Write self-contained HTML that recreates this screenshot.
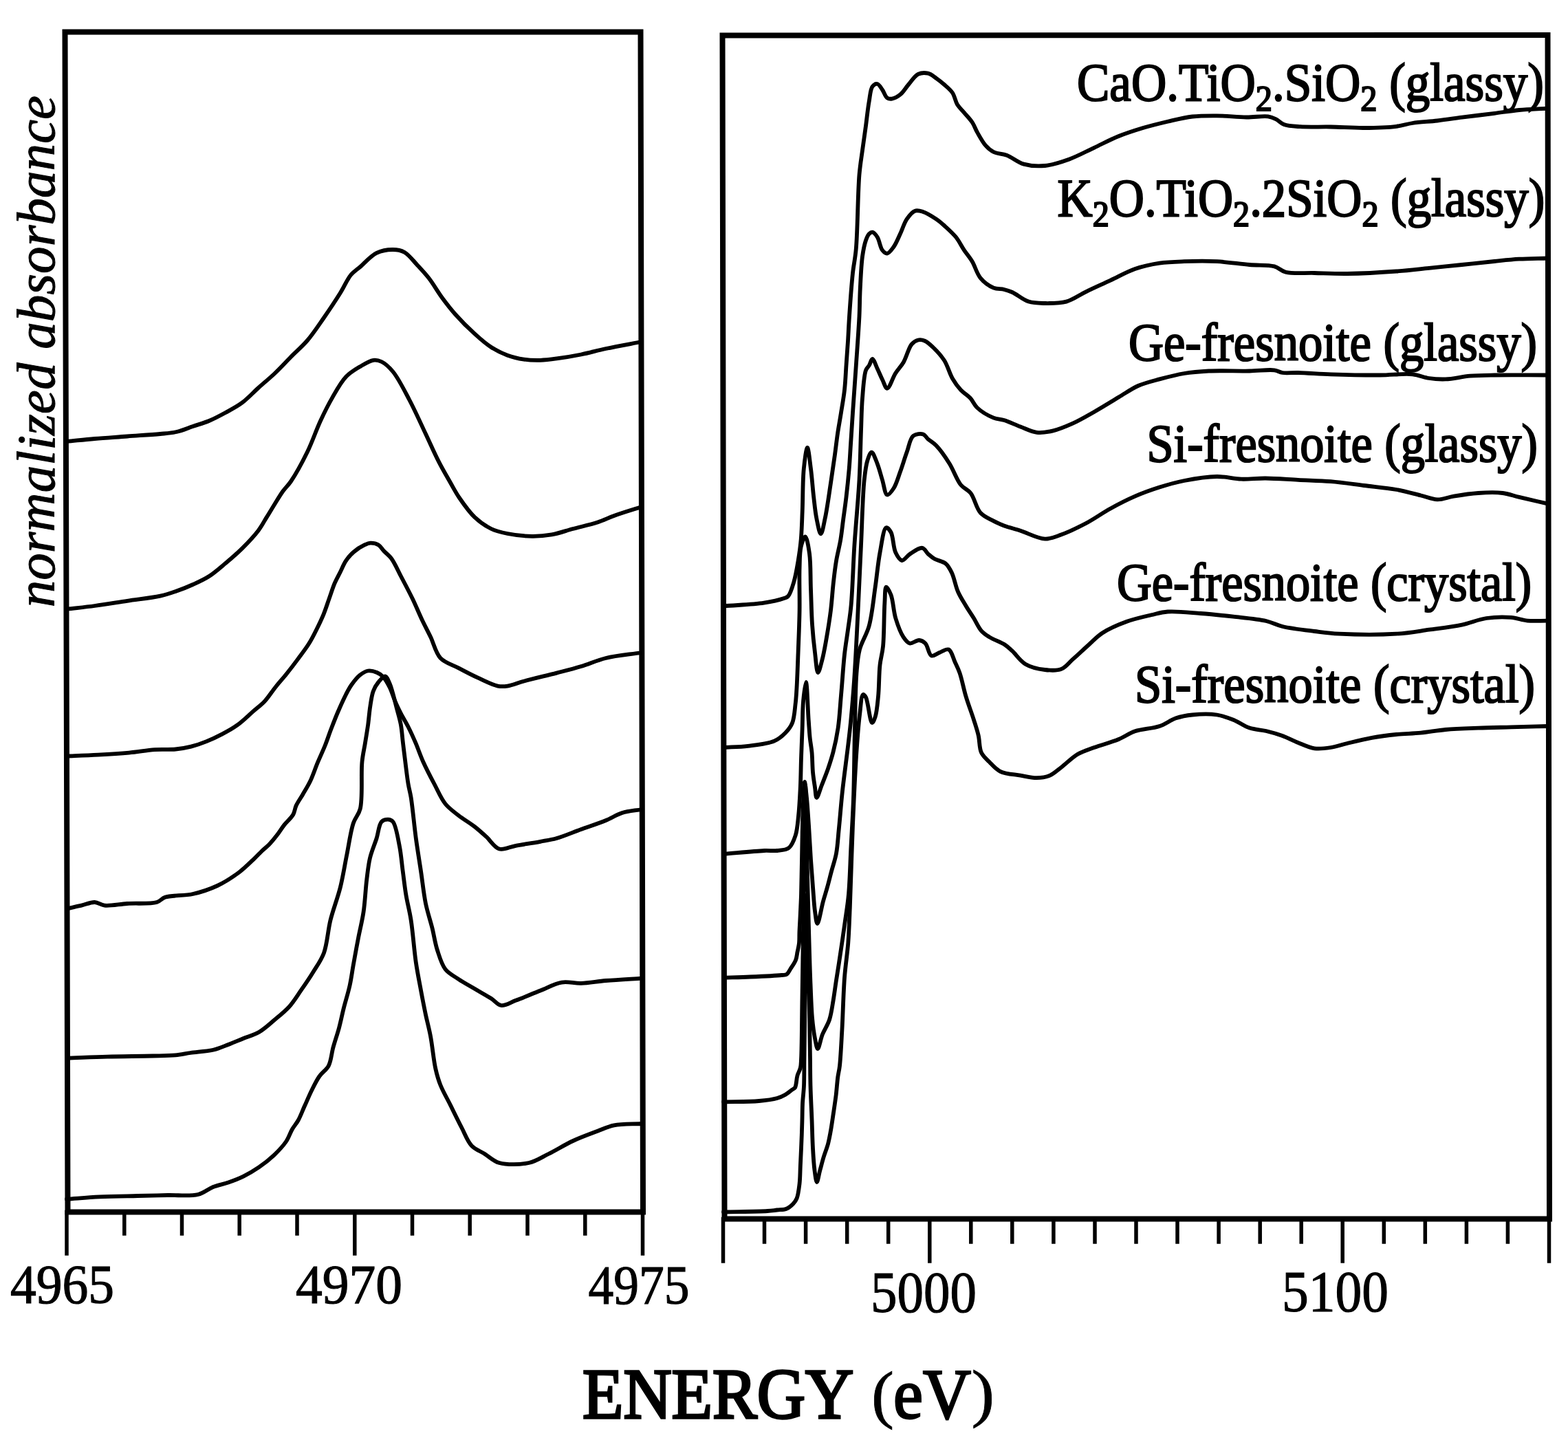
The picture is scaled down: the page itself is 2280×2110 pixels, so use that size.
<!DOCTYPE html>
<html><head><meta charset="utf-8"><title>XANES spectra</title>
<style>
html,body{margin:0;padding:0;background:#fff;}
svg{display:block;}
text{font-family:"Liberation Serif","Times New Roman",serif;fill:#000;}
</style></head><body>
<svg width="2280" height="2110" viewBox="0 0 2280 2110">
<rect x="0" y="0" width="2280" height="2110" fill="#fff"/>

<path d="M94.5,46.5 L931.5,46.5 L935,1762.5 L98.5,1762.5 Z" fill="none" stroke="#000" stroke-width="8" stroke-linejoin="miter"/>
<path d="M1050.5,51.5 L2250.5,51 L2253,1772.5 L1053.5,1772.5 Z" fill="none" stroke="#000" stroke-width="8" stroke-linejoin="miter"/>
<line x1="97.0" y1="1762.5" x2="97.0" y2="1823" stroke="#000" stroke-width="5.5" stroke-linecap="square"/>
<line x1="180.8" y1="1762.5" x2="180.8" y2="1794" stroke="#000" stroke-width="5.5" stroke-linecap="square"/>
<line x1="264.5" y1="1762.5" x2="264.5" y2="1794" stroke="#000" stroke-width="5.5" stroke-linecap="square"/>
<line x1="348.2" y1="1762.5" x2="348.2" y2="1794" stroke="#000" stroke-width="5.5" stroke-linecap="square"/>
<line x1="432.0" y1="1762.5" x2="432.0" y2="1794" stroke="#000" stroke-width="5.5" stroke-linecap="square"/>
<line x1="515.8" y1="1762.5" x2="515.8" y2="1823" stroke="#000" stroke-width="5.5" stroke-linecap="square"/>
<line x1="599.5" y1="1762.5" x2="599.5" y2="1794" stroke="#000" stroke-width="5.5" stroke-linecap="square"/>
<line x1="683.2" y1="1762.5" x2="683.2" y2="1794" stroke="#000" stroke-width="5.5" stroke-linecap="square"/>
<line x1="767.0" y1="1762.5" x2="767.0" y2="1794" stroke="#000" stroke-width="5.5" stroke-linecap="square"/>
<line x1="850.8" y1="1762.5" x2="850.8" y2="1794" stroke="#000" stroke-width="5.5" stroke-linecap="square"/>
<line x1="934.5" y1="1762.5" x2="934.5" y2="1823" stroke="#000" stroke-width="5.5" stroke-linecap="square"/>
<line x1="1051.5" y1="1772.5" x2="1051.5" y2="1834" stroke="#000" stroke-width="5.5" stroke-linecap="square"/>
<line x1="1111.5" y1="1772.5" x2="1111.5" y2="1806" stroke="#000" stroke-width="5.5" stroke-linecap="square"/>
<line x1="1171.6" y1="1772.5" x2="1171.6" y2="1806" stroke="#000" stroke-width="5.5" stroke-linecap="square"/>
<line x1="1231.7" y1="1772.5" x2="1231.7" y2="1806" stroke="#000" stroke-width="5.5" stroke-linecap="square"/>
<line x1="1291.7" y1="1772.5" x2="1291.7" y2="1806" stroke="#000" stroke-width="5.5" stroke-linecap="square"/>
<line x1="1351.8" y1="1772.5" x2="1351.8" y2="1834" stroke="#000" stroke-width="5.5" stroke-linecap="square"/>
<line x1="1411.8" y1="1772.5" x2="1411.8" y2="1806" stroke="#000" stroke-width="5.5" stroke-linecap="square"/>
<line x1="1471.8" y1="1772.5" x2="1471.8" y2="1806" stroke="#000" stroke-width="5.5" stroke-linecap="square"/>
<line x1="1531.9" y1="1772.5" x2="1531.9" y2="1806" stroke="#000" stroke-width="5.5" stroke-linecap="square"/>
<line x1="1592.0" y1="1772.5" x2="1592.0" y2="1806" stroke="#000" stroke-width="5.5" stroke-linecap="square"/>
<line x1="1652.0" y1="1772.5" x2="1652.0" y2="1806" stroke="#000" stroke-width="5.5" stroke-linecap="square"/>
<line x1="1712.0" y1="1772.5" x2="1712.0" y2="1806" stroke="#000" stroke-width="5.5" stroke-linecap="square"/>
<line x1="1772.1" y1="1772.5" x2="1772.1" y2="1806" stroke="#000" stroke-width="5.5" stroke-linecap="square"/>
<line x1="1832.2" y1="1772.5" x2="1832.2" y2="1806" stroke="#000" stroke-width="5.5" stroke-linecap="square"/>
<line x1="1892.2" y1="1772.5" x2="1892.2" y2="1806" stroke="#000" stroke-width="5.5" stroke-linecap="square"/>
<line x1="1952.2" y1="1772.5" x2="1952.2" y2="1834" stroke="#000" stroke-width="5.5" stroke-linecap="square"/>
<line x1="2012.3" y1="1772.5" x2="2012.3" y2="1806" stroke="#000" stroke-width="5.5" stroke-linecap="square"/>
<line x1="2072.3" y1="1772.5" x2="2072.3" y2="1806" stroke="#000" stroke-width="5.5" stroke-linecap="square"/>
<line x1="2132.4" y1="1772.5" x2="2132.4" y2="1806" stroke="#000" stroke-width="5.5" stroke-linecap="square"/>
<line x1="2192.4" y1="1772.5" x2="2192.4" y2="1806" stroke="#000" stroke-width="5.5" stroke-linecap="square"/>
<line x1="2252.5" y1="1772.5" x2="2252.5" y2="1834" stroke="#000" stroke-width="5.5" stroke-linecap="square"/>
<path d="M97.0,642.0 C110.5,640.7 123.5,639.2 137.6,638.0 C152.8,636.7 169.2,635.7 185.0,634.5 C200.9,633.3 219.8,632.3 233.0,631.0 C242.3,630.1 248.9,629.8 256.7,628.0 C264.7,626.2 272.6,622.7 280.5,620.0 C288.4,617.3 296.2,615.2 304.0,612.0 C312.1,608.6 320.1,604.3 328.0,600.0 C336.1,595.6 344.3,591.4 352.0,585.7 C360.3,579.6 367.8,571.1 375.7,564.0 C383.6,556.9 391.7,550.4 399.5,543.0 C407.5,535.4 415.1,527.0 423.0,519.0 C430.9,511.0 439.3,504.0 447.0,495.0 C455.4,485.2 463.1,473.3 471.0,462.0 C479.1,450.3 487.9,437.1 494.8,426.0 C500.6,416.7 504.5,406.7 510.0,400.0 C514.3,394.8 518.6,392.5 523.8,388.0 C530.6,382.1 539.1,372.0 547.6,367.9 C555.1,364.3 564.2,362.9 571.4,363.0 C577.4,363.0 582.7,363.8 588.0,366.7 C594.7,370.4 601.0,379.3 607.0,385.7 C612.9,392.0 618.2,397.6 623.8,404.8 C630.2,413.1 636.4,424.1 642.9,433.0 C649.1,441.4 654.7,448.8 662.0,457.0 C670.3,466.4 681.2,477.3 690.5,485.7 C698.5,493.0 705.8,499.5 714.0,504.8 C721.7,509.7 729.8,513.7 738.0,516.7 C745.8,519.6 754.0,521.4 762.0,522.6 C769.9,523.8 777.8,524.0 785.7,523.8 C793.6,523.6 800.8,522.6 809.5,521.4 C820.2,520.0 833.2,517.9 845.0,515.5 C857.0,513.1 867.9,509.8 881.0,507.0 C896.7,503.6 915.7,500.3 933.0,497.0" fill="none" stroke="#000" stroke-width="5.8" stroke-linejoin="round" stroke-linecap="round"/>
<path d="M97.0,885.7 C110.5,884.1 123.6,882.9 137.6,881.0 C152.8,879.0 169.1,876.2 185.0,873.8 C200.9,871.4 219.9,869.6 233.0,866.7 C242.4,864.6 248.8,862.3 256.7,859.5 C264.7,856.7 272.7,853.6 280.5,850.0 C288.4,846.4 296.4,842.9 304.0,838.0 C312.2,832.7 320.1,825.6 328.0,819.0 C336.1,812.2 344.2,805.3 352.0,797.6 C360.1,789.5 369.4,779.7 375.7,771.4 C380.7,764.8 383.6,758.8 387.6,752.4 C391.6,746.0 395.5,739.4 399.5,733.0 C403.4,726.7 407.3,720.0 411.4,714.3 C415.1,709.1 418.7,706.3 423.0,700.0 C430.0,689.7 439.8,671.7 447.0,657.0 C454.1,642.4 459.6,625.8 466.0,612.0 C471.6,599.9 476.8,589.3 483.0,578.6 C489.1,568.0 495.5,555.9 503.0,548.0 C509.3,541.4 516.8,537.1 523.8,533.0 C530.1,529.2 537.2,524.6 542.9,523.8 C547.2,523.2 550.8,524.1 554.8,526.0 C560.2,528.6 565.9,533.9 571.4,540.5 C579.4,550.2 587.4,566.6 595.0,581.0 C603.3,596.6 611.5,615.2 619.0,631.0 C625.7,645.2 631.6,659.0 638.0,671.4 C643.6,682.4 649.7,692.7 655.0,702.0 C659.6,710.0 662.8,716.4 668.0,724.0 C674.2,733.1 682.3,744.7 690.5,752.4 C697.9,759.3 706.0,765.0 714.3,769.0 C721.9,772.7 729.2,774.2 738.0,776.0 C748.6,778.1 762.5,779.7 773.8,779.8 C783.9,779.9 792.8,779.1 802.4,777.4 C812.5,775.6 822.4,771.9 833.0,769.0 C844.5,765.9 858.3,763.0 869.0,759.5 C877.9,756.6 883.9,753.3 893.0,750.0 C904.6,745.8 919.7,741.3 933.0,737.0" fill="none" stroke="#000" stroke-width="5.8" stroke-linejoin="round" stroke-linecap="round"/>
<path d="M97.0,1099.5 C112.2,1098.9 127.5,1098.4 142.6,1097.6 C157.7,1096.8 173.3,1095.9 187.6,1094.6 C200.7,1093.4 213.4,1090.9 225.2,1090.1 C235.7,1089.4 245.9,1090.4 255.2,1089.5 C263.3,1088.7 270.3,1087.5 277.8,1085.6 C285.4,1083.7 292.9,1081.1 300.3,1078.1 C307.9,1075.1 315.4,1071.5 322.8,1067.6 C330.4,1063.6 338.1,1059.4 345.4,1054.1 C353.2,1048.5 361.0,1040.6 367.9,1034.6 C373.8,1029.5 379.2,1025.8 384.4,1020.3 C390.2,1014.2 395.1,1006.0 400.6,999.2 C405.9,992.5 411.5,986.4 416.8,979.7 C422.3,972.9 427.7,965.8 433.0,958.6 C438.5,951.2 444.6,943.4 449.3,935.8 C453.7,928.8 457.1,921.8 460.6,914.7 C464.1,907.7 467.4,900.8 470.4,893.6 C473.4,886.2 475.8,878.5 478.5,870.9 C481.2,863.3 483.7,855.1 486.6,848.2 C489.1,842.3 492.0,837.4 494.7,832.0 C497.4,826.6 499.6,820.6 502.9,815.7 C506.1,810.9 509.8,806.5 514.2,802.7 C518.9,798.6 525.9,794.4 530.5,792.2 C533.6,790.8 535.7,789.8 538.6,789.7 C542.1,789.6 546.8,790.3 550.0,792.2 C553.3,794.1 555.1,797.9 558.0,801.0 C561.3,804.5 565.5,807.2 569.0,812.0 C573.9,818.6 578.2,828.8 583.0,838.0 C588.4,848.3 594.7,860.1 600.0,871.0 C605.0,881.4 609.4,892.4 614.0,902.0 C618.1,910.6 621.9,917.5 626.0,926.0 C630.7,935.6 633.3,949.4 640.5,957.0 C647.2,964.1 657.8,966.7 666.7,971.4 C675.9,976.3 685.4,981.3 695.0,985.7 C704.5,990.0 715.7,996.0 723.8,997.6 C729.2,998.7 732.7,998.4 738.0,997.6 C745.0,996.6 752.6,993.1 762.0,990.5 C775.1,986.9 794.8,982.4 809.5,978.6 C822.2,975.3 833.2,972.6 845.0,969.0 C857.0,965.4 867.8,960.2 881.0,957.0 C896.6,953.2 915.7,951.7 933.0,949.0" fill="none" stroke="#000" stroke-width="5.8" stroke-linejoin="round" stroke-linecap="round"/>
<path d="M97.0,1321.4 C104.2,1319.8 111.6,1318.3 118.6,1316.7 C125.1,1315.2 131.7,1311.8 137.6,1312.0 C142.8,1312.2 146.1,1316.0 152.0,1316.7 C160.7,1317.7 173.3,1314.8 185.0,1314.0 C198.4,1313.1 218.3,1314.9 228.0,1312.0 C233.5,1310.3 234.6,1306.7 240.0,1304.8 C249.3,1301.6 267.6,1302.9 280.5,1300.0 C292.9,1297.2 304.8,1293.2 316.0,1288.0 C327.0,1282.9 337.7,1275.9 347.0,1269.0 C355.6,1262.6 363.8,1254.2 370.0,1248.3 C374.3,1244.2 377.2,1241.0 380.8,1237.5 C384.4,1234.1 388.1,1231.3 391.6,1227.7 C395.4,1223.8 399.0,1219.4 402.5,1214.8 C406.2,1210.0 409.4,1204.6 413.3,1199.6 C417.3,1194.5 423.4,1189.6 426.3,1184.5 C428.7,1180.2 428.6,1176.0 430.6,1171.5 C433.0,1166.2 437.0,1160.9 440.3,1155.2 C443.9,1149.0 447.8,1142.9 451.2,1135.8 C455.1,1127.6 458.3,1117.5 462.0,1108.7 C465.5,1100.2 469.5,1092.1 472.8,1083.8 C476.0,1075.8 478.4,1068.0 481.5,1060.0 C484.7,1051.7 487.9,1043.3 491.5,1035.0 C495.1,1026.6 499.4,1017.1 503.0,1010.0 C505.8,1004.6 507.8,1000.5 511.0,996.0 C514.4,991.2 518.6,985.5 523.0,982.0 C526.8,979.0 531.0,976.1 535.2,975.5 C539.4,974.9 544.4,976.4 548.2,978.0 C551.6,979.4 554.2,981.2 556.9,984.0 C560.5,987.7 563.7,993.8 566.6,999.5 C569.8,1005.9 572.1,1014.4 575.0,1021.0 C577.5,1026.9 579.9,1031.7 582.8,1037.4 C586.0,1043.7 590.1,1050.1 593.6,1057.0 C597.4,1064.5 601.0,1072.5 604.5,1080.7 C608.2,1089.4 611.1,1098.4 615.3,1107.7 C620.0,1118.1 626.0,1129.6 631.5,1140.0 C636.8,1150.0 641.2,1161.1 647.6,1169.0 C653.2,1175.9 659.8,1180.3 666.7,1185.7 C674.1,1191.5 683.4,1196.9 690.5,1202.4 C696.6,1207.2 701.4,1211.6 707.0,1216.7 C713.2,1222.3 718.7,1232.4 726.0,1234.5 C733.1,1236.5 741.2,1231.4 750.0,1229.8 C760.7,1227.9 775.0,1225.8 785.7,1223.8 C794.4,1222.2 800.9,1221.4 809.5,1219.0 C820.3,1216.0 833.1,1210.3 845.0,1206.0 C857.0,1201.7 870.3,1197.4 881.0,1193.0 C889.8,1189.4 896.3,1184.7 904.8,1182.0 C913.6,1179.2 923.6,1178.7 933.0,1177.0" fill="none" stroke="#000" stroke-width="5.8" stroke-linejoin="round" stroke-linecap="round"/>
<path d="M97.0,1538.8 C116.7,1538.1 135.8,1537.1 156.0,1536.6 C177.4,1536.0 203.8,1536.0 222.0,1535.5 C234.9,1535.2 245.1,1535.3 255.0,1534.4 C263.1,1533.6 268.9,1532.2 277.0,1531.0 C286.9,1529.6 300.2,1529.0 310.0,1526.7 C318.2,1524.8 324.7,1521.8 332.0,1519.0 C339.4,1516.2 346.6,1513.0 354.0,1510.0 C361.4,1507.0 369.2,1505.1 376.4,1501.0 C384.1,1496.5 391.2,1489.8 398.4,1483.7 C405.9,1477.5 413.9,1471.3 420.5,1464.0 C427.1,1456.7 432.2,1448.0 438.0,1439.7 C444.0,1431.1 450.2,1422.1 455.7,1413.0 C461.2,1404.1 467.0,1396.4 471.0,1385.7 C475.9,1372.3 476.6,1353.8 480.5,1338.0 C484.5,1322.1 490.8,1306.4 494.8,1290.5 C498.7,1274.8 501.1,1258.7 504.3,1243.0 C507.4,1227.5 509.7,1209.2 513.8,1197.0 C516.7,1188.4 521.5,1185.3 523.8,1176.0 C527.7,1160.0 524.7,1125.2 526.5,1107.7 C527.6,1096.6 529.5,1089.7 530.9,1080.7 C532.4,1071.7 533.9,1062.6 535.2,1053.6 C536.4,1044.6 537.0,1035.1 538.4,1026.6 C539.6,1019.0 540.5,1011.1 542.8,1005.0 C544.7,999.9 547.3,995.6 550.3,991.9 C553.1,988.5 557.3,982.9 560.0,983.3 C562.7,983.7 564.5,989.1 566.6,994.0 C570.4,1002.6 574.5,1021.1 577.4,1032.0 C579.6,1040.2 581.4,1045.9 582.8,1053.6 C584.4,1062.1 584.9,1071.7 586.0,1080.7 C587.1,1089.7 588.1,1098.3 589.3,1107.7 C590.6,1118.0 592.0,1130.6 593.6,1140.0 C594.8,1147.3 596.2,1151.2 597.6,1159.5 C599.9,1173.9 602.3,1200.3 604.8,1219.0 C607.1,1235.8 609.6,1250.8 612.0,1266.7 C614.4,1282.5 616.0,1299.4 619.0,1314.0 C621.7,1326.9 625.7,1338.4 628.6,1350.0 C631.2,1360.7 632.5,1371.0 635.7,1381.0 C638.9,1390.8 641.9,1402.2 647.6,1409.5 C652.6,1415.9 659.9,1419.2 666.7,1423.8 C674.1,1428.7 682.6,1433.3 690.5,1438.0 C698.4,1442.7 707.4,1447.6 714.3,1452.0 C719.7,1455.5 723.1,1461.2 728.6,1462.0 C734.8,1462.9 742.0,1457.7 750.0,1454.8 C760.4,1451.0 774.2,1445.0 785.7,1440.5 C796.4,1436.3 806.4,1430.3 816.7,1428.6 C826.2,1427.0 835.0,1430.1 845.0,1429.8 C856.3,1429.4 867.9,1427.1 881.0,1426.0 C896.7,1424.7 915.7,1423.7 933.0,1422.6" fill="none" stroke="#000" stroke-width="5.8" stroke-linejoin="round" stroke-linecap="round"/>
<path d="M97.0,1743.7 C113.0,1742.6 128.4,1741.2 145.0,1740.4 C162.7,1739.6 182.7,1739.4 200.0,1739.0 C215.5,1738.6 229.3,1738.3 244.0,1738.0 C258.7,1737.7 276.1,1739.9 288.0,1737.0 C296.9,1734.8 302.5,1728.9 310.0,1726.0 C317.2,1723.2 324.7,1722.0 332.0,1719.5 C339.4,1716.9 346.8,1714.2 354.0,1710.6 C361.6,1706.9 369.1,1702.4 376.4,1697.4 C384.0,1692.2 391.7,1686.1 398.4,1679.8 C404.9,1673.6 411.4,1666.8 416.0,1660.0 C420.0,1654.1 421.8,1647.4 425.0,1642.0 C427.8,1637.2 431.0,1633.9 433.7,1629.0 C436.9,1623.2 439.4,1616.2 442.5,1609.3 C446.0,1601.6 449.7,1592.6 453.5,1585.0 C457.0,1577.9 460.3,1571.0 464.5,1565.0 C468.5,1559.3 474.5,1556.0 477.8,1549.8 C481.6,1542.6 481.9,1532.4 484.4,1523.4 C487.0,1514.0 490.4,1504.3 493.0,1494.7 C495.6,1485.2 497.3,1475.9 499.8,1466.0 C502.5,1455.4 506.2,1443.9 508.6,1433.0 C510.9,1422.6 512.0,1413.0 514.0,1402.0 C516.2,1389.5 518.9,1375.0 521.4,1362.0 C523.8,1349.7 526.7,1338.9 528.6,1326.0 C530.8,1311.3 531.5,1292.7 533.3,1278.6 C534.7,1267.2 535.6,1257.6 538.0,1247.6 C540.4,1237.8 544.7,1228.1 547.6,1219.0 C550.2,1210.7 550.8,1199.2 554.8,1195.0 C557.3,1192.4 561.4,1191.6 564.3,1191.7 C566.9,1191.8 569.3,1192.5 571.4,1195.0 C575.9,1200.4 578.6,1218.9 581.0,1231.0 C583.3,1242.8 584.1,1254.8 585.7,1266.7 C587.3,1278.5 588.5,1290.2 590.5,1302.0 C592.5,1314.0 595.5,1324.4 597.6,1338.0 C600.4,1355.7 602.1,1381.2 604.8,1399.5 C607.0,1414.4 609.6,1426.9 612.0,1440.0 C614.3,1452.3 616.6,1464.2 619.0,1475.7 C621.3,1486.4 623.8,1495.2 626.0,1506.7 C628.7,1520.8 630.4,1541.0 633.3,1554.0 C635.4,1563.4 637.2,1569.8 640.5,1578.0 C644.2,1587.3 649.9,1596.8 654.8,1606.7 C660.1,1617.4 666.0,1629.6 671.4,1640.0 C676.2,1649.3 679.6,1659.5 685.7,1666.0 C691.0,1671.7 698.3,1673.9 704.8,1678.0 C711.7,1682.3 717.3,1688.5 726.0,1691.0 C737.5,1694.2 756.4,1693.7 769.0,1691.0 C779.8,1688.7 787.6,1682.9 797.6,1678.0 C808.9,1672.4 821.2,1664.6 833.3,1659.0 C845.1,1653.6 858.3,1648.8 869.0,1644.8 C877.7,1641.5 883.8,1638.2 892.9,1636.4 C904.4,1634.1 919.6,1634.8 933.0,1634.0" fill="none" stroke="#000" stroke-width="5.8" stroke-linejoin="round" stroke-linecap="round"/>
<path d="M1052.0,881.4 C1071.7,879.8 1094.9,879.2 1111.0,876.7 C1122.4,874.9 1134.0,872.1 1140.0,870.0 C1142.8,869.0 1144.2,869.0 1146.0,867.0 C1149.4,863.3 1152.1,853.8 1154.4,846.0 C1157.1,836.9 1158.9,825.7 1160.6,815.5 C1162.3,805.3 1163.7,795.7 1164.7,784.6 C1165.8,771.9 1166.1,758.6 1166.7,743.5 C1167.5,725.0 1167.1,698.7 1168.8,681.7 C1170.0,669.6 1172.3,651.0 1174.0,651.0 C1175.7,651.0 1177.5,670.7 1179.0,681.7 C1180.7,694.4 1181.7,710.3 1183.2,723.0 C1184.5,734.0 1185.4,744.3 1187.3,753.7 C1189.0,761.9 1191.4,776.4 1193.5,776.4 C1195.6,776.4 1197.7,762.9 1199.7,753.7 C1202.7,740.1 1205.5,718.5 1208.0,702.3 C1210.2,687.8 1212.2,673.8 1214.0,661.0 C1215.5,650.0 1216.5,640.5 1218.0,630.3 C1219.5,620.2 1221.4,610.3 1223.0,600.0 C1224.7,589.2 1226.8,578.2 1228.0,567.0 C1229.3,555.4 1229.7,543.3 1230.5,531.4 C1231.3,519.5 1232.2,507.6 1233.0,495.7 C1233.7,483.8 1234.1,473.6 1235.0,460.0 C1236.2,442.0 1238.1,415.0 1240.0,397.0 C1241.5,383.4 1243.5,376.5 1244.8,361.4 C1247.1,335.3 1247.3,280.1 1249.5,254.0 C1250.8,239.0 1252.4,230.4 1254.0,218.6 C1255.6,206.7 1257.4,194.9 1259.0,183.0 C1260.6,171.0 1261.9,157.4 1263.8,147.0 C1265.2,138.9 1265.6,129.6 1268.6,125.7 C1270.4,123.3 1273.5,121.6 1275.7,122.0 C1278.3,122.5 1280.7,127.3 1283.0,130.5 C1285.5,134.0 1287.1,140.4 1290.0,142.4 C1292.1,143.8 1294.4,144.0 1297.0,143.6 C1300.5,143.1 1305.3,140.6 1309.0,137.6 C1313.4,134.1 1316.8,127.8 1321.0,123.0 C1325.4,117.9 1329.7,110.5 1335.0,107.9 C1339.4,105.8 1345.1,105.7 1349.5,106.7 C1353.8,107.7 1357.5,111.1 1361.4,113.8 C1365.4,116.6 1369.2,119.6 1373.0,123.0 C1377.1,126.6 1381.9,130.3 1385.0,135.0 C1388.3,139.9 1389.0,147.1 1392.0,152.0 C1394.8,156.5 1398.5,159.7 1402.0,163.8 C1405.8,168.3 1410.6,173.1 1413.8,178.0 C1416.8,182.6 1418.1,187.3 1421.0,192.4 C1424.4,198.4 1428.6,206.4 1433.0,211.4 C1436.6,215.5 1440.1,218.7 1444.8,221.0 C1450.1,223.7 1457.2,223.2 1463.8,225.7 C1471.7,228.7 1479.6,236.0 1488.6,238.6 C1498.1,241.3 1508.9,242.0 1519.5,241.0 C1531.0,239.9 1543.3,235.6 1555.0,231.4 C1567.1,227.0 1579.0,220.4 1591.0,214.8 C1602.9,209.2 1614.7,202.8 1626.7,198.0 C1638.4,193.3 1650.1,189.6 1662.0,186.0 C1673.9,182.5 1686.0,179.5 1698.0,176.7 C1709.9,174.0 1721.8,170.9 1733.8,169.5 C1745.7,168.1 1757.0,168.2 1769.5,168.3 C1783.2,168.4 1799.3,170.4 1812.5,170.5 C1823.8,170.6 1836.0,168.3 1843.8,169.4 C1848.7,170.1 1851.7,171.5 1855.5,173.3 C1859.5,175.3 1862.2,179.2 1867.0,181.0 C1873.3,183.4 1881.5,183.6 1890.6,184.2 C1903.1,185.1 1919.9,184.2 1935.0,184.5 C1950.7,184.8 1967.0,186.1 1983.0,186.0 C1998.9,185.9 2017.5,185.4 2030.5,183.8 C2039.8,182.6 2045.3,180.3 2054.0,179.0 C2064.7,177.4 2078.0,176.9 2090.0,175.5 C2101.9,174.1 2113.0,172.4 2125.7,170.7 C2140.4,168.8 2158.3,166.7 2173.0,164.8 C2185.8,163.1 2196.6,161.2 2209.0,160.0 C2222.2,158.7 2236.3,158.4 2250.0,157.6" fill="none" stroke="#000" stroke-width="5.8" stroke-linejoin="round" stroke-linecap="round"/>
<path d="M1052.0,1087.0 C1063.9,1086.3 1075.6,1086.3 1087.6,1084.8 C1100.1,1083.2 1116.0,1081.8 1125.7,1077.6 C1132.7,1074.6 1137.5,1070.3 1142.0,1065.7 C1146.2,1061.5 1149.6,1057.3 1152.0,1051.4 C1155.1,1043.8 1155.6,1032.0 1156.7,1023.0 C1157.7,1015.0 1158.0,1009.2 1158.5,1000.0 C1159.3,986.3 1159.9,966.8 1160.6,949.0 C1161.3,929.5 1162.3,908.0 1162.6,887.5 C1162.9,867.0 1162.0,842.8 1162.6,825.8 C1163.0,813.8 1162.7,803.2 1164.7,795.0 C1166.1,789.1 1169.0,780.4 1170.9,780.5 C1173.3,780.7 1175.6,795.2 1177.0,805.0 C1179.0,819.0 1178.3,839.4 1179.0,856.6 C1179.7,873.7 1179.9,891.8 1181.0,908.0 C1182.0,922.5 1183.4,936.5 1185.0,949.0 C1186.3,959.5 1187.4,977.8 1189.4,978.0 C1191.1,978.1 1193.6,966.5 1195.5,959.5 C1197.9,950.6 1199.7,939.7 1201.7,928.6 C1203.9,915.9 1206.3,901.3 1208.0,887.5 C1209.7,873.7 1210.5,858.8 1212.0,846.0 C1213.2,835.0 1214.3,825.7 1216.0,815.5 C1217.7,805.2 1220.6,794.9 1222.3,784.6 C1224.0,774.3 1225.0,764.0 1226.4,753.7 C1227.8,743.4 1229.2,733.9 1230.5,722.9 C1232.0,710.2 1233.6,694.4 1234.7,681.7 C1235.6,670.7 1236.0,662.5 1236.7,651.0 C1237.7,636.1 1238.8,618.3 1240.0,600.0 C1241.4,578.8 1243.2,554.5 1244.8,531.4 C1246.4,507.8 1248.5,480.2 1249.5,460.0 C1250.2,445.1 1250.0,434.7 1250.7,421.0 C1251.5,405.8 1252.2,386.1 1254.0,373.0 C1255.3,363.7 1256.9,355.5 1259.0,349.5 C1260.4,345.5 1261.8,342.0 1263.8,340.0 C1265.2,338.6 1266.9,337.3 1268.6,337.6 C1270.9,338.0 1273.6,341.5 1275.7,344.8 C1278.7,349.4 1279.8,359.8 1283.0,363.8 C1285.0,366.4 1287.6,368.8 1290.0,368.6 C1293.0,368.3 1296.6,363.0 1299.5,359.0 C1303.1,354.0 1305.9,346.6 1309.0,340.0 C1312.3,333.1 1314.6,324.4 1318.6,318.6 C1322.0,313.7 1326.2,308.2 1330.5,306.7 C1334.1,305.4 1337.8,306.6 1342.0,307.9 C1347.8,309.7 1355.9,314.9 1361.4,318.6 C1365.9,321.6 1368.9,324.3 1373.0,328.0 C1378.2,332.7 1385.1,338.7 1390.0,344.8 C1394.7,350.7 1397.9,357.7 1402.0,363.8 C1405.9,369.6 1410.1,374.3 1413.8,380.5 C1418.0,387.6 1420.3,397.9 1425.7,404.3 C1430.8,410.4 1438.5,415.9 1444.8,418.6 C1449.9,420.7 1455.3,419.8 1460.0,421.0 C1464.3,422.0 1467.4,423.0 1472.0,425.0 C1478.7,428.0 1487.5,436.0 1495.7,438.6 C1503.4,441.1 1511.0,440.9 1519.5,441.0 C1529.1,441.1 1540.6,441.3 1550.5,438.6 C1560.5,435.8 1568.9,429.2 1579.0,424.3 C1590.2,418.9 1602.9,413.2 1614.8,407.6 C1626.7,402.1 1638.4,395.2 1650.5,391.0 C1662.1,387.0 1674.0,384.4 1686.0,382.6 C1697.9,380.8 1709.2,380.6 1722.0,380.2 C1736.7,379.7 1753.7,379.4 1769.5,380.2 C1785.4,381.0 1802.3,383.8 1817.0,385.0 C1829.8,386.1 1843.5,384.8 1853.0,387.4 C1859.8,389.3 1862.5,393.9 1869.5,395.7 C1880.1,398.4 1897.0,396.6 1911.4,397.0 C1926.8,397.4 1941.5,398.2 1959.0,398.0 C1980.4,397.7 2009.1,396.1 2030.5,394.5 C2048.0,393.2 2062.2,391.4 2078.0,389.8 C2093.9,388.2 2109.8,386.6 2125.7,385.0 C2141.5,383.4 2158.3,381.5 2173.0,380.0 C2185.8,378.7 2196.6,377.4 2209.0,376.7 C2222.2,375.9 2236.3,375.9 2250.0,375.5" fill="none" stroke="#000" stroke-width="5.8" stroke-linejoin="round" stroke-linecap="round"/>
<path d="M1052.0,1242.0 C1071.8,1240.3 1097.2,1237.6 1111.4,1237.0 C1119.3,1236.7 1124.0,1237.7 1130.0,1237.0 C1135.8,1236.3 1142.6,1236.4 1147.0,1233.0 C1151.8,1229.3 1154.4,1221.8 1156.7,1214.8 C1159.4,1206.6 1159.9,1197.0 1161.0,1186.6 C1162.4,1174.0 1163.1,1158.5 1163.8,1144.4 C1164.5,1130.3 1164.5,1116.1 1165.0,1102.0 C1165.5,1088.0 1166.1,1073.8 1166.6,1060.0 C1167.1,1046.5 1166.9,1032.1 1168.0,1020.0 C1168.9,1009.8 1170.9,992.0 1172.0,992.0 C1173.6,992.1 1174.6,1031.6 1175.7,1046.7 C1176.5,1057.4 1176.9,1065.6 1177.8,1074.0 C1178.6,1081.2 1179.8,1086.7 1180.5,1094.0 C1181.3,1102.8 1181.2,1114.0 1182.0,1123.0 C1182.7,1130.9 1184.0,1138.4 1185.0,1145.0 C1185.8,1150.5 1186.0,1159.8 1187.5,1160.0 C1189.1,1160.2 1192.3,1148.4 1194.8,1142.0 C1197.7,1134.6 1201.2,1126.0 1204.0,1118.0 C1206.7,1110.0 1209.1,1102.8 1211.4,1094.0 C1214.1,1083.4 1216.7,1071.3 1218.6,1058.6 C1220.8,1044.0 1221.5,1027.8 1223.0,1011.0 C1224.7,992.3 1226.1,968.7 1228.0,951.4 C1229.5,938.0 1231.4,927.6 1233.0,915.7 C1234.6,903.8 1236.3,894.5 1237.6,880.0 C1239.7,857.4 1240.5,822.6 1242.4,793.0 C1244.4,762.0 1247.9,727.4 1249.5,698.0 C1250.9,672.5 1251.2,648.1 1252.0,626.7 C1252.7,609.2 1252.7,594.2 1254.0,579.0 C1255.2,564.9 1256.1,546.4 1259.0,538.6 C1260.3,535.0 1262.3,534.0 1263.8,531.4 C1265.5,528.5 1266.8,522.0 1268.6,522.0 C1270.7,522.0 1273.4,531.2 1275.7,536.0 C1278.2,541.1 1280.5,547.0 1283.0,552.0 C1285.3,556.5 1287.4,564.8 1290.0,564.8 C1293.5,564.8 1297.8,549.6 1302.0,543.0 C1305.8,537.0 1310.1,533.0 1313.8,526.7 C1318.2,519.2 1321.1,505.8 1325.7,500.5 C1328.6,497.2 1331.7,495.3 1335.0,494.5 C1338.1,493.8 1341.6,494.4 1344.8,495.7 C1348.8,497.4 1352.6,501.1 1356.7,505.0 C1361.9,510.0 1368.4,516.8 1373.0,524.0 C1378.0,531.8 1380.6,542.9 1385.0,550.5 C1388.7,556.9 1392.5,562.2 1397.0,567.0 C1401.2,571.6 1407.0,574.6 1411.0,579.0 C1414.9,583.3 1416.4,588.7 1421.0,593.0 C1426.9,598.5 1437.5,604.7 1444.8,607.6 C1450.2,609.8 1454.4,609.3 1460.0,611.0 C1467.1,613.2 1475.8,617.5 1483.8,620.5 C1491.7,623.5 1499.6,627.9 1507.6,628.8 C1515.4,629.7 1523.2,628.3 1531.4,626.4 C1540.6,624.2 1550.4,620.0 1560.0,615.7 C1570.3,611.0 1580.4,605.0 1591.0,599.0 C1602.6,592.4 1615.5,584.3 1626.7,577.6 C1636.7,571.7 1645.1,565.4 1655.0,561.0 C1664.9,556.7 1675.2,554.3 1686.0,551.4 C1697.5,548.3 1710.0,545.0 1722.0,543.0 C1733.8,541.0 1744.2,540.2 1757.6,539.5 C1774.9,538.7 1799.7,539.8 1817.0,539.5 C1830.5,539.3 1844.3,537.1 1853.0,538.3 C1858.1,539.0 1860.2,541.3 1864.8,542.0 C1871.1,543.0 1878.6,541.8 1887.6,542.0 C1900.5,542.3 1917.6,543.7 1935.0,544.3 C1956.4,545.0 1985.3,545.6 2006.7,545.5 C2024.1,545.4 2041.0,542.9 2054.0,544.3 C2063.4,545.3 2069.9,548.8 2078.0,550.0 C2085.9,551.2 2093.2,551.7 2102.0,551.4 C2112.7,551.0 2125.7,547.7 2137.6,546.7 C2149.4,545.7 2158.9,545.7 2173.0,545.5 C2193.7,545.1 2224.3,545.5 2250.0,545.5" fill="none" stroke="#000" stroke-width="5.8" stroke-linejoin="round" stroke-linecap="round"/>
<path d="M1052.0,1421.7 C1065.0,1421.3 1077.5,1421.1 1091.0,1420.5 C1105.6,1419.9 1127.9,1418.9 1136.6,1418.0 C1140.1,1417.6 1141.9,1418.1 1144.0,1416.8 C1146.3,1415.3 1147.5,1412.0 1149.4,1409.0 C1151.8,1405.3 1155.3,1400.6 1157.0,1396.3 C1158.5,1392.4 1158.7,1388.5 1159.5,1384.4 C1160.4,1380.1 1161.5,1375.6 1162.0,1371.0 C1162.5,1366.2 1162.2,1361.8 1162.4,1356.0 C1162.7,1348.1 1163.4,1337.3 1163.8,1328.0 C1164.2,1318.7 1164.7,1310.7 1165.0,1300.0 C1165.4,1285.7 1165.6,1268.1 1166.0,1250.0 C1166.4,1228.6 1166.7,1200.5 1167.5,1180.0 C1168.1,1163.9 1168.9,1137.0 1170.0,1137.0 C1170.8,1137.0 1172.1,1151.3 1173.0,1160.0 C1174.2,1171.5 1175.0,1185.9 1176.0,1200.0 C1177.1,1215.7 1177.9,1234.3 1179.0,1250.0 C1180.0,1264.1 1181.0,1277.1 1182.0,1290.0 C1183.0,1302.1 1183.6,1315.3 1185.0,1325.0 C1186.0,1332.0 1186.9,1343.0 1188.5,1343.0 C1190.6,1343.1 1194.3,1320.1 1197.0,1310.5 C1199.1,1302.9 1201.1,1297.0 1203.0,1290.0 C1205.1,1282.6 1206.9,1274.9 1209.0,1267.0 C1211.2,1258.6 1214.3,1250.3 1216.0,1241.0 C1218.0,1230.4 1218.4,1219.5 1219.7,1206.6 C1221.4,1190.1 1222.9,1169.3 1225.0,1150.0 C1227.2,1129.8 1230.5,1106.2 1232.7,1088.0 C1234.4,1073.8 1235.6,1064.1 1237.0,1050.0 C1238.7,1032.3 1240.5,1012.0 1242.0,990.0 C1243.9,963.0 1245.4,931.3 1247.0,900.0 C1248.7,865.9 1250.3,827.6 1252.0,793.0 C1253.6,760.4 1254.3,720.4 1256.7,698.0 C1258.0,685.7 1259.0,676.8 1261.4,669.5 C1263.0,664.5 1265.2,657.6 1267.4,657.6 C1269.9,657.6 1273.2,668.1 1275.7,674.3 C1278.5,681.4 1280.6,690.3 1283.0,698.0 C1285.3,705.4 1286.7,718.7 1290.0,719.5 C1292.6,720.1 1296.7,714.3 1299.5,710.0 C1303.4,704.1 1305.9,694.4 1309.0,686.0 C1312.3,677.0 1315.3,666.6 1318.6,657.6 C1321.6,649.3 1323.0,637.8 1328.0,633.8 C1331.8,630.8 1338.7,630.2 1342.4,631.4 C1345.5,632.4 1346.7,636.1 1349.5,638.6 C1352.9,641.6 1357.3,643.7 1361.4,648.0 C1367.4,654.2 1374.7,664.7 1380.5,674.0 C1386.6,683.7 1390.9,697.5 1397.0,705.0 C1401.5,710.5 1407.1,711.6 1411.4,717.0 C1417.0,724.1 1419.4,738.8 1425.7,745.7 C1431.0,751.5 1438.7,754.3 1444.8,757.6 C1450.1,760.4 1454.3,762.4 1460.0,764.5 C1467.0,767.1 1475.1,768.9 1483.8,771.7 C1494.5,775.1 1508.8,783.2 1519.5,783.6 C1528.1,783.9 1534.5,780.6 1543.0,777.6 C1553.9,773.7 1567.2,767.2 1579.0,761.0 C1591.1,754.6 1602.7,746.1 1614.8,739.5 C1626.6,733.0 1638.5,726.9 1650.5,721.7 C1662.2,716.6 1674.0,712.4 1686.0,708.6 C1697.9,704.8 1709.1,701.5 1722.0,699.0 C1736.6,696.1 1754.8,693.2 1769.5,693.0 C1782.2,692.9 1793.2,696.3 1805.0,696.7 C1816.7,697.1 1827.4,695.4 1840.0,695.5 C1854.7,695.6 1871.7,697.1 1887.6,697.9 C1903.4,698.7 1919.2,698.9 1935.0,700.2 C1951.0,701.6 1967.0,704.0 1983.0,706.0 C1998.9,708.0 2015.9,709.3 2030.5,712.0 C2043.3,714.3 2055.3,717.9 2066.0,720.5 C2074.8,722.6 2082.0,726.2 2090.0,726.4 C2097.9,726.6 2105.0,723.1 2113.8,721.7 C2124.5,719.9 2137.6,717.8 2149.5,717.0 C2161.3,716.2 2174.4,715.7 2185.0,717.0 C2193.9,718.1 2199.9,720.7 2209.0,722.9 C2220.8,725.7 2236.3,729.2 2250.0,732.4" fill="none" stroke="#000" stroke-width="5.8" stroke-linejoin="round" stroke-linecap="round"/>
<path d="M1052.0,1602.3 C1069.2,1601.9 1089.3,1602.3 1103.6,1601.0 C1113.9,1600.1 1123.1,1599.0 1130.0,1597.0 C1134.8,1595.6 1138.0,1594.1 1141.7,1592.0 C1145.4,1589.9 1149.4,1586.4 1152.0,1584.5 C1153.6,1583.3 1154.9,1583.3 1156.0,1581.6 C1158.1,1578.4 1158.0,1569.1 1159.5,1564.0 C1160.7,1559.8 1162.9,1556.9 1163.8,1553.0 C1164.8,1548.9 1164.7,1546.3 1165.0,1540.0 C1165.9,1523.5 1166.0,1480.8 1166.5,1450.0 C1167.0,1417.5 1167.5,1383.3 1168.0,1350.0 C1168.5,1316.7 1169.0,1284.0 1169.5,1250.0 C1170.0,1214.7 1170.3,1142.0 1171.0,1142.0 C1171.7,1142.0 1172.7,1214.7 1173.5,1250.0 C1174.3,1284.0 1175.1,1318.5 1176.0,1350.0 C1176.8,1378.2 1177.5,1406.5 1178.5,1430.0 C1179.3,1448.6 1179.7,1465.5 1181.0,1480.0 C1182.0,1491.3 1183.4,1501.8 1185.0,1510.0 C1186.2,1515.9 1187.4,1525.0 1189.0,1525.0 C1190.9,1525.1 1193.2,1510.9 1196.0,1504.0 C1198.9,1496.9 1203.4,1490.7 1206.0,1483.0 C1208.8,1474.5 1210.0,1464.4 1211.6,1455.0 C1213.2,1445.6 1214.4,1435.9 1215.8,1426.6 C1217.2,1417.6 1218.4,1410.6 1220.0,1400.0 C1222.4,1384.4 1226.0,1359.8 1228.5,1342.0 C1230.6,1326.9 1232.6,1315.8 1234.0,1300.0 C1235.8,1279.7 1236.3,1253.3 1237.5,1230.0 C1238.7,1206.7 1240.1,1185.5 1241.0,1160.0 C1242.1,1129.2 1242.2,1089.9 1243.0,1058.0 C1243.7,1029.9 1243.8,999.5 1245.5,978.6 C1246.6,964.8 1247.1,955.7 1250.0,944.5 C1253.0,933.0 1260.0,923.5 1263.6,910.5 C1268.1,894.2 1270.0,872.0 1272.7,853.6 C1275.2,836.4 1276.6,818.9 1279.5,803.6 C1282.0,790.5 1284.6,768.4 1288.6,767.3 C1290.6,766.7 1293.6,770.6 1295.5,774.0 C1298.9,780.1 1298.8,796.3 1302.3,803.6 C1304.7,808.6 1308.0,814.6 1311.4,815.0 C1314.8,815.4 1318.3,808.8 1322.7,806.0 C1327.9,802.7 1336.2,796.0 1341.0,796.8 C1344.8,797.4 1346.9,803.3 1350.0,806.0 C1352.9,808.5 1355.4,810.7 1359.0,812.7 C1363.4,815.3 1370.8,816.0 1375.0,819.5 C1379.1,822.9 1381.3,827.5 1384.0,833.0 C1387.6,840.4 1389.3,852.2 1393.0,860.5 C1396.3,868.0 1400.6,874.4 1404.5,881.0 C1408.2,887.3 1412.2,892.9 1416.0,899.0 C1419.7,905.0 1422.8,912.5 1427.0,917.3 C1430.5,921.3 1433.9,923.4 1438.6,926.4 C1444.8,930.3 1455.4,933.8 1461.4,937.7 C1465.8,940.6 1468.0,943.0 1472.0,946.7 C1477.5,951.8 1483.3,961.2 1491.0,965.7 C1499.0,970.5 1510.3,972.9 1519.5,974.0 C1527.7,975.0 1536.5,975.6 1543.3,972.9 C1549.9,970.3 1554.0,963.9 1560.0,958.6 C1567.3,952.2 1576.3,943.7 1583.8,937.0 C1590.5,931.1 1595.1,925.5 1602.9,920.5 C1612.6,914.2 1626.5,908.2 1638.6,903.8 C1650.2,899.6 1663.3,896.8 1674.0,894.3 C1682.7,892.3 1688.6,890.2 1698.0,889.5 C1711.1,888.5 1729.8,890.8 1745.7,892.0 C1761.6,893.2 1777.4,894.9 1793.3,896.7 C1809.2,898.5 1828.0,900.0 1841.0,903.0 C1850.4,905.2 1855.4,908.7 1864.8,911.0 C1877.6,914.1 1896.9,916.2 1911.4,918.0 C1924.0,919.6 1932.6,921.0 1947.0,921.7 C1969.0,922.8 2006.6,923.2 2030.5,921.7 C2048.6,920.6 2062.2,917.9 2078.0,915.7 C2093.9,913.5 2111.0,911.7 2125.7,908.6 C2138.5,905.9 2149.4,900.8 2161.4,899.0 C2173.2,897.3 2186.3,897.0 2197.0,897.9 C2205.8,898.6 2212.6,901.8 2221.0,902.6 C2230.2,903.5 2240.3,902.6 2250.0,902.6" fill="none" stroke="#000" stroke-width="5.8" stroke-linejoin="round" stroke-linecap="round"/>
<path d="M1052.0,1762.5 C1073.3,1762.0 1102.4,1761.9 1116.0,1761.0 C1122.4,1760.6 1125.4,1760.0 1130.0,1759.5 C1134.4,1759.0 1139.1,1759.5 1143.0,1758.0 C1146.9,1756.5 1150.7,1753.2 1153.4,1750.4 C1155.7,1748.0 1157.2,1746.0 1158.6,1742.6 C1160.7,1737.5 1161.6,1729.2 1162.5,1721.8 C1163.5,1713.6 1163.4,1704.5 1163.8,1695.8 C1164.2,1687.2 1164.6,1679.5 1165.0,1670.0 C1165.5,1658.3 1166.1,1642.7 1166.4,1631.0 C1166.7,1621.5 1166.6,1613.7 1167.0,1605.0 C1167.4,1596.3 1168.6,1588.5 1169.0,1579.0 C1169.5,1567.3 1169.3,1555.7 1169.5,1540.0 C1169.8,1516.2 1170.2,1480.0 1170.5,1450.0 C1170.8,1420.0 1171.2,1386.7 1171.5,1360.0 C1171.7,1338.6 1171.5,1302.0 1172.0,1302.0 C1172.5,1302.0 1173.8,1338.5 1174.5,1360.0 C1175.4,1386.7 1175.9,1420.0 1176.5,1450.0 C1177.1,1480.0 1177.6,1516.2 1178.0,1540.0 C1178.2,1555.7 1178.1,1565.1 1178.5,1579.0 C1178.9,1595.1 1180.0,1614.9 1180.6,1631.0 C1181.1,1644.9 1181.3,1657.6 1182.0,1670.0 C1182.6,1681.2 1183.3,1693.0 1184.5,1702.0 C1185.4,1708.6 1186.5,1719.0 1187.8,1719.0 C1189.1,1719.0 1190.7,1707.8 1192.3,1702.0 C1194.0,1695.8 1195.6,1689.4 1197.5,1683.0 C1199.5,1676.5 1202.2,1670.0 1204.0,1663.4 C1205.7,1657.0 1206.7,1651.0 1208.0,1644.0 C1209.4,1636.0 1210.7,1626.7 1212.0,1618.0 C1213.3,1609.3 1214.6,1600.7 1215.7,1592.0 C1216.7,1583.3 1217.3,1573.6 1218.3,1566.0 C1219.1,1560.0 1220.2,1556.9 1221.0,1550.0 C1222.4,1537.7 1223.3,1517.0 1224.4,1498.0 C1225.7,1475.0 1226.3,1444.5 1228.0,1421.7 C1229.4,1403.1 1232.0,1387.9 1233.3,1371.0 C1234.6,1354.0 1234.9,1340.6 1235.8,1320.0 C1237.1,1288.4 1238.4,1238.2 1240.0,1200.0 C1241.5,1165.1 1243.1,1129.1 1245.0,1100.0 C1246.5,1077.4 1247.9,1056.5 1250.0,1040.0 C1251.5,1028.2 1252.3,1010.9 1255.0,1010.0 C1256.1,1009.6 1257.7,1011.7 1259.0,1014.0 C1262.3,1019.9 1265.0,1050.6 1268.0,1051.0 C1269.6,1051.2 1271.4,1046.2 1272.7,1042.3 C1275.0,1035.5 1275.9,1023.7 1277.0,1012.7 C1278.4,999.1 1278.0,980.2 1279.5,967.0 C1280.6,956.8 1282.9,950.9 1284.0,940.0 C1285.7,923.3 1285.3,892.3 1286.4,876.4 C1287.0,866.9 1286.6,854.1 1288.6,853.6 C1290.1,853.2 1293.5,860.0 1295.5,865.0 C1298.7,873.1 1299.1,888.4 1302.3,899.0 C1305.3,908.8 1309.3,920.0 1313.6,926.4 C1316.4,930.6 1319.0,934.6 1322.7,935.5 C1326.6,936.4 1332.4,930.7 1336.4,931.0 C1339.8,931.2 1342.8,932.8 1345.5,935.5 C1349.2,939.2 1350.4,952.0 1354.5,953.6 C1357.7,954.8 1362.0,950.5 1366.0,949.0 C1370.3,947.4 1375.9,943.0 1379.5,944.5 C1383.8,946.3 1385.8,956.8 1388.6,962.7 C1391.1,968.1 1393.3,972.2 1395.5,978.6 C1398.7,987.7 1401.1,1001.4 1404.5,1012.7 C1407.9,1024.1 1412.8,1036.6 1416.0,1046.8 C1418.6,1055.1 1420.9,1061.7 1422.7,1069.5 C1424.6,1077.6 1423.8,1087.8 1427.0,1094.5 C1429.7,1100.1 1434.3,1103.6 1438.6,1108.0 C1443.3,1112.8 1447.9,1118.6 1454.5,1121.8 C1462.4,1125.7 1474.5,1126.0 1483.8,1127.6 C1492.1,1129.1 1500.1,1131.3 1507.6,1131.2 C1514.3,1131.1 1520.8,1130.1 1526.7,1127.6 C1532.7,1125.0 1537.3,1120.2 1543.3,1115.7 C1550.6,1110.2 1558.7,1101.6 1567.0,1096.7 C1574.7,1092.2 1582.2,1090.3 1591.0,1087.0 C1601.7,1083.1 1616.1,1079.4 1626.7,1075.0 C1635.6,1071.3 1641.6,1066.4 1650.5,1063.3 C1661.0,1059.7 1675.5,1059.6 1686.0,1056.0 C1695.0,1052.9 1701.8,1047.1 1710.0,1044.3 C1717.8,1041.7 1725.0,1040.4 1733.8,1039.5 C1744.5,1038.4 1758.9,1037.9 1769.5,1039.5 C1778.3,1040.8 1785.5,1043.6 1793.3,1046.7 C1801.3,1049.9 1808.9,1055.9 1817.0,1058.6 C1824.8,1061.2 1833.1,1061.1 1841.0,1063.0 C1849.0,1064.9 1857.0,1067.2 1864.8,1070.0 C1872.6,1072.8 1879.9,1077.0 1887.6,1080.0 C1895.4,1083.1 1903.4,1087.2 1911.4,1088.3 C1919.2,1089.4 1927.2,1088.2 1935.0,1087.0 C1943.0,1085.8 1950.2,1083.1 1959.0,1081.0 C1969.7,1078.4 1982.8,1075.1 1994.8,1072.9 C2006.7,1070.7 2018.6,1069.2 2030.5,1068.0 C2042.3,1066.8 2054.1,1066.9 2066.0,1065.7 C2078.0,1064.5 2089.1,1062.2 2102.0,1061.0 C2116.7,1059.7 2133.7,1059.2 2149.5,1058.6 C2165.3,1058.0 2180.7,1057.8 2197.0,1057.4 C2214.2,1057.0 2232.3,1056.5 2250.0,1056.0" fill="none" stroke="#000" stroke-width="5.8" stroke-linejoin="round" stroke-linecap="round"/>
<text x="1566" y="146.0" font-size="78" textLength="679" lengthAdjust="spacingAndGlyphs" stroke="#000" stroke-width="2.2">CaO.TiO<tspan font-size="53" dy="15">2</tspan><tspan dy="-15">.SiO</tspan><tspan font-size="53" dy="15">2</tspan><tspan dy="-15"> (glassy)</tspan></text>
<text x="1537.6" y="313.7" font-size="78" textLength="708.6" lengthAdjust="spacingAndGlyphs" stroke="#000" stroke-width="2.2">K<tspan font-size="53" dy="15">2</tspan><tspan dy="-15">O.TiO</tspan><tspan font-size="53" dy="15">2</tspan><tspan dy="-15">.2SiO</tspan><tspan font-size="53" dy="15">2</tspan><tspan dy="-15"> (glassy)</tspan></text>
<text x="1641" y="523.5" font-size="78" textLength="594" lengthAdjust="spacingAndGlyphs" stroke="#000" stroke-width="2.2">Ge-fresnoite (glassy)</text>
<text x="1667.5" y="671.0" font-size="78" textLength="568.4" lengthAdjust="spacingAndGlyphs" stroke="#000" stroke-width="2.2">Si-fresnoite (glassy)</text>
<text x="1624" y="872.5" font-size="78" textLength="603.2" lengthAdjust="spacingAndGlyphs" stroke="#000" stroke-width="2.2">Ge-fresnoite (crystal)</text>
<text x="1650" y="1020.7" font-size="78" textLength="582" lengthAdjust="spacingAndGlyphs" stroke="#000" stroke-width="2.2">Si-fresnoite (crystal)</text>
<text x="15" y="1895" font-size="81.16" textLength="151" lengthAdjust="spacingAndGlyphs" stroke="#000" stroke-width="1.2">4965</text>
<text x="430" y="1895" font-size="81.16" textLength="155" lengthAdjust="spacingAndGlyphs" stroke="#000" stroke-width="1.2">4970</text>
<text x="855.5" y="1895.5" font-size="80.92" textLength="147.0" lengthAdjust="spacingAndGlyphs" stroke="#000" stroke-width="1.2">4975</text>
<text x="1266" y="1908" font-size="85.51" textLength="154" lengthAdjust="spacingAndGlyphs" stroke="#000" stroke-width="1.2">5000</text>
<text x="1864" y="1907" font-size="84.34" textLength="155" lengthAdjust="spacingAndGlyphs" stroke="#000" stroke-width="1.2">5100</text>
<text x="847" y="2062.4" font-size="103.39" textLength="394.2" lengthAdjust="spacingAndGlyphs" stroke="#000" stroke-width="3.5">ENERGY</text>
<text transform="translate(78.8,881.3) rotate(-90)" x="-2" y="0" font-size="78" font-style="italic" textLength="744.5" lengthAdjust="spacingAndGlyphs" stroke="#000" stroke-width="1.0">normalized absorbance</text>
<text x="1267" y="2059" font-size="93.42" textLength="33.0" lengthAdjust="spacingAndGlyphs" stroke="#000" stroke-width="0.8">(</text>
<text x="1299" y="2061.5" font-size="104.53" textLength="113" lengthAdjust="spacingAndGlyphs" stroke="#000" stroke-width="2.8">eV</text>
<text x="1412.4" y="2057" font-size="92.6" textLength="33.6" lengthAdjust="spacingAndGlyphs" stroke="#000" stroke-width="0.8">)</text>
</svg>
</body></html>
